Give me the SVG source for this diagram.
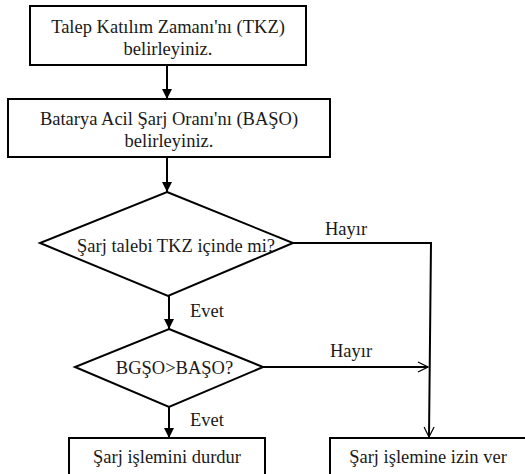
<svg xmlns="http://www.w3.org/2000/svg" width="525" height="474" viewBox="0 0 525 474">
<style>
.box{fill:#fff;stroke:#000;stroke-width:2}
.ln{fill:none;stroke:#000;stroke-width:2}
</style>
<defs>
<marker id="fa" viewBox="0 0 10 10" refX="10" refY="5" markerWidth="5" markerHeight="5" orient="auto" markerUnits="strokeWidth"><path d="M0,0 L10,5 L0,10 z" fill="#000"/></marker>
<marker id="oa" viewBox="0 0 12 12" refX="11" refY="6" markerWidth="6" markerHeight="6" orient="auto" markerUnits="strokeWidth"><path d="M1,1 L11,6 L1,11" fill="none" stroke="#000" stroke-width="1.2"/></marker>
</defs>
<rect width="525" height="474" fill="#fff"/>
<g id="n1"><rect class="box" x="30" y="6" width="276" height="59"/><text font-family="Liberation Serif, serif" font-size="18.5" fill="#1a1a1a" text-anchor="middle" x="168" y="33">Talep Katılım Zamanı'nı (TKZ)</text><text font-family="Liberation Serif, serif" font-size="18.5" fill="#1a1a1a" text-anchor="middle" x="168" y="55">belirleyiniz.</text></g>
<g id="n2"><rect class="box" x="8" y="99" width="322" height="58"/><text font-family="Liberation Serif, serif" font-size="18.5" fill="#1a1a1a" text-anchor="middle" x="169" y="125">Batarya Acil Şarj Oranı'nı (BAŞO)</text><text font-family="Liberation Serif, serif" font-size="18.5" fill="#1a1a1a" text-anchor="middle" x="169" y="147">belirleyiniz.</text></g>
<g id="d1"><polygon class="box" points="167,192 293,243 168,296 40,243"/><text font-family="Liberation Serif, serif" font-size="18.5" fill="#1a1a1a" text-anchor="middle" x="176" y="252">Şarj talebi TKZ içinde mi?</text></g>
<g id="d2"><polygon class="box" points="169,329 263,367 169,407 75,367"/><text font-family="Liberation Serif, serif" font-size="18.5" fill="#1a1a1a" text-anchor="middle" x="174.5" y="374">BGŞO&gt;BAŞO?</text></g>
<g id="n3"><rect class="box" x="69" y="438" width="196" height="40"/><text font-family="Liberation Serif, serif" font-size="18.5" fill="#1a1a1a" text-anchor="middle" x="167" y="463">Şarj işlemini durdur</text></g>
<g id="n4"><rect class="box" x="330" y="438" width="200" height="40"/><text font-family="Liberation Serif, serif" font-size="18.5" fill="#1a1a1a" text-anchor="middle" x="428" y="463">Şarj işlemine izin ver</text></g>
<g id="edges">
<line class="ln" x1="167" y1="65" x2="167" y2="99" marker-end="url(#fa)"/>
<line class="ln" x1="167" y1="157" x2="167" y2="192" marker-end="url(#fa)"/>
<polyline class="ln" points="293,243 431,243 429,437" marker-end="url(#oa)"/>
<line class="ln" x1="169" y1="296" x2="169" y2="329" marker-end="url(#fa)"/>
<line class="ln" x1="263" y1="367" x2="428" y2="367" marker-end="url(#oa)"/>
<line class="ln" x1="169" y1="407" x2="169" y2="438" marker-end="url(#fa)"/>
<text font-family="Liberation Serif, serif" font-size="18.5" fill="#1a1a1a" x="325" y="235">Hayır</text>
<text font-family="Liberation Serif, serif" font-size="18.5" fill="#1a1a1a" x="190" y="317">Evet</text>
<text font-family="Liberation Serif, serif" font-size="18.5" fill="#1a1a1a" x="330" y="357">Hayır</text>
<text font-family="Liberation Serif, serif" font-size="18.5" fill="#1a1a1a" x="190" y="426">Evet</text>
</g>
</svg>
